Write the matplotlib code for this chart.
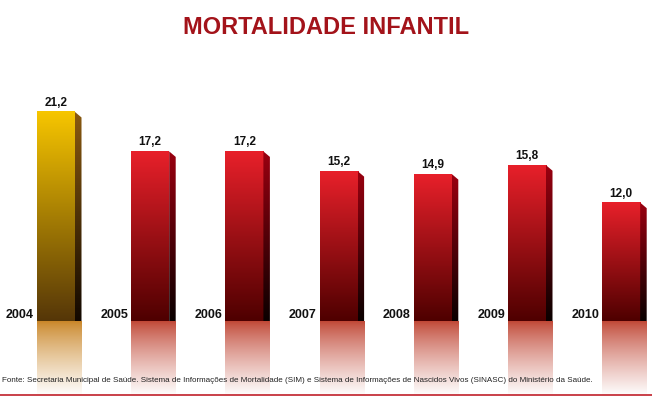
import numpy as np
import matplotlib
matplotlib.use("Agg")
import matplotlib.pyplot as plt
from matplotlib.patches import Polygon
from matplotlib.colors import to_rgb

years = ["2004", "2005", "2006", "2007", "2008", "2009", "2010"]
values = [21.2, 17.2, 17.2, 15.2, 14.9, 15.8, 12.0]
labels = ["21,2", "17,2", "17,2", "15,2", "14,9", "15,8", "12,0"]
highlight = [True, False, False, False, False, False, False]

title = "MORTALIDADE INFANTIL"
source = ("Fonte: Secretaria Municipal de Saúde. Sistema de Informações de Mortalidade (SIM) "
          "e Sistema de Informações de Nascidos Vivos (SINASC) do Ministério da Saúde.")

W, H = 652, 399
fig = plt.figure(figsize=(W / 100, H / 100), dpi=100)
ax = fig.add_axes([0, 0, 1, 1])
px_per_x = 94.2
px_per_y = 9.86
x0_px = 56.0
base_px = 321.0
ax.set_xlim(-x0_px / px_per_x, (W - x0_px) / px_per_x)
ax.set_ylim(-(H - base_px) / px_per_y, base_px / px_per_y)
ax.axis("off")

bw = 38 / px_per_x
dx = 6.5 / px_per_x
dy = 5.5 / px_per_y
refl_depth = 7.6


def vgrad(c_top, c_bot, n=256, gamma=1.0):
    t = np.linspace(0, 1, n)[:, None] ** gamma
    ct = np.array(to_rgb(c_top))
    cb = np.array(to_rgb(c_bot))
    rgb = ct[None, :] * (1 - t) + cb[None, :] * t
    return rgb[:, None, :]


palettes = {
    True: dict(front=("#f7c600", "#553608"), side=("#8a5a10", "#120800"),
               refl="#c98526"),
    False: dict(front=("#e8202a", "#4e0000"), side=("#9a0010", "#0a0000"),
                refl="#c04634"),
}

for i, (v, lab, yr, hl) in enumerate(zip(values, labels, years, highlight)):
    p = palettes[hl]
    left = i - bw / 2
    right = i + bw / 2
    # front face
    ax.imshow(vgrad(*p["front"]), extent=(left, right, 0, v), aspect="auto",
              interpolation="bilinear", zorder=2)
    # side face
    side = Polygon([(right, v), (right + dx, v - dy), (right + dx, 0), (right, 0)],
                   closed=True, facecolor="none", edgecolor="none")
    ax.add_patch(side)
    im = ax.imshow(vgrad(*p["side"]), extent=(right, right + dx, 0, v),
                   aspect="auto", interpolation="bilinear", zorder=2)
    im.set_clip_path(side)
    # reflection
    ax.imshow(vgrad(p["refl"], "#ffffff", gamma=0.8),
              extent=(left, right + dx, -refl_depth, 0), aspect="auto",
              interpolation="bilinear", zorder=1)
    # labels
    ax.text(i, v + 0.3, lab, ha="center", va="bottom", fontsize=8.5,
            fontweight="bold", family="Liberation Sans", color="#111111", zorder=3)
    ax.text(left - 3 / px_per_x, 0.0, yr, ha="right", va="bottom", fontsize=9,
            fontweight="bold", family="Liberation Sans", color="#111111", zorder=3)

fig.text(0.5, 1 - 28 / H, title, ha="center", va="center", fontsize=17,
         fontweight="bold", family="Liberation Sans", color="#a3131a")
fig.text(2 / W, 1 - 381 / H, source, ha="left", va="center", fontsize=5.75,
         family="Liberation Sans", color="#222222", zorder=5)
fig.add_artist(plt.Line2D([0, 1], [1 - 395 / H, 1 - 395 / H],
                          transform=fig.transFigure, color="#c0202a", lw=1.2))

fig.savefig("out.png", dpi=100)
